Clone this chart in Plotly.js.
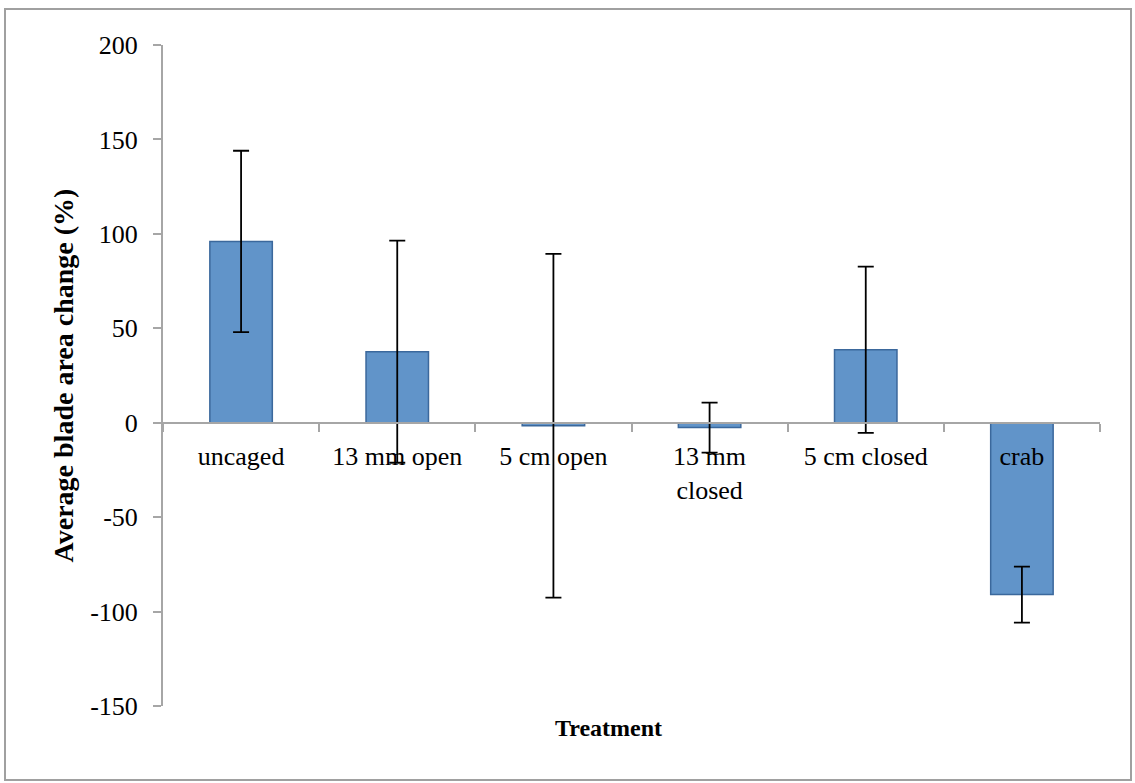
<!DOCTYPE html>
<html>
<head>
<meta charset="utf-8">
<script src="https://cdn.plot.ly/plotly-3.0.1.min.js"></script>
<style>html,body{margin:0;padding:0;background:#fff;}#chart{width:1135px;height:783px;}</style>
</head>
<body>
<div id="chart"></div>
<script>
const categories = ["uncaged", "13 mm open", "5 cm open", "13 mm<br>closed", "5 cm closed", "crab"];
const meanChange = [96, 37.6, -1.6, -2.6, 38.6, -91];
const errorSize = [48, 58.8, 91, 13.2, 44, 14.8];
const yTickValues = [-150, -100, -50, 0, 50, 100, 150, 200];
const yTickLabels = ["-150", "-100", "-50", "0", "50", "100", "150", "200"];

const FONT = "'Liberation Serif', 'Times New Roman', serif";
const GRAY = "#a6a6a6";

const trace = {
  type: "bar",
  x: categories,
  y: meanChange,
  marker: {color: "#6194c9", line: {color: "#3b689c", width: 1.5}},
  error_y: {type: "data", array: errorSize, visible: true, color: "#000", thickness: 1.8, width: 8},
  hoverinfo: "x+y"
};

const layout = {
  width: 1135, height: 783,
  margin: {l: 163, r: 35, t: 45, b: 77},
  paper_bgcolor: "#fff", plot_bgcolor: "#fff",
  showlegend: false,
  bargap: 0.6,
  font: {family: FONT, size: 26, color: "#000"},
  xaxis: {
    type: "category",
    anchor: "free", position: 3/7,
    showline: true, linecolor: GRAY, linewidth: 2,
    ticks: "outside", tickson: "boundaries", ticklen: 8, tickcolor: GRAY, tickwidth: 2,
    showgrid: false, zeroline: false,
    ticklabelstandoff: 10,
    tickfont: {family: FONT, size: 26, color: "#000"}
  },
  yaxis: {
    range: [-150, 200], tickvals: yTickValues, ticktext: yTickLabels,
    showline: true, linecolor: GRAY, linewidth: 2,
    ticks: "outside", ticklen: 8, tickcolor: GRAY, tickwidth: 2,
    showgrid: false, zeroline: false,
    ticklabelstandoff: 10,
    tickfont: {family: FONT, size: 26, color: "#000"},
    title: {text: "<b>Average blade area change (%)</b>", standoff: 8,
            font: {family: FONT, size: 28, color: "#000"}}
  },
  annotations: [{
    text: "<b>Treatment</b>", xref: "paper", yref: "paper",
    x: (608 - 163) / 937, y: (706 - 728) / 661, xanchor: "center", yanchor: "middle",
    showarrow: false, font: {family: FONT, size: 24, color: "#000"}
  }],
  shapes: [{
    type: "rect", xref: "paper", yref: "paper",
    x0: (5 - 163) / 937, x1: (1131 - 163) / 937,
    y0: (706 - 780) / 661, y1: (706 - 9) / 661,
    line: {color: "#a0a0a0", width: 2}, fillcolor: "rgba(0,0,0,0)", layer: "below"
  }]
};

Plotly.newPlot("chart", [trace], layout, {displayModeBar: false, staticPlot: true});
</script>
</body>
</html>
